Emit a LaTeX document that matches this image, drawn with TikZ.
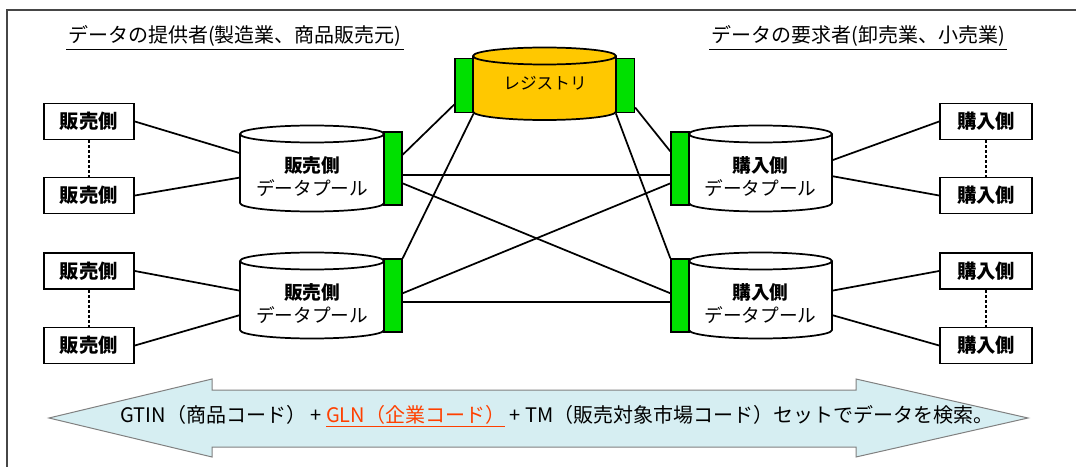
\documentclass[tikz,border=0pt]{standalone}
\usepackage{fontspec}
\setmainfont{Noto Sans CJK JP}
\usetikzlibrary{calc}

\definecolor{portgreen}{RGB}{0,224,0}
\definecolor{regyellow}{RGB}{255,200,0}
\definecolor{arrowfill}{RGB}{214,238,242}
\definecolor{glnred}{RGB}{255,64,0}
\definecolor{framegray}{RGB}{70,70,70}

\tikzset{every picture/.style={line width=1.3pt}}

\begin{document}
\begin{tikzpicture}[x=0.75pt,y=0.75pt,yscale=-1,xscale=1,
  box/.style={draw,fill=white,inner sep=0pt,minimum width=67.5pt,minimum height=27pt,font=\bfseries\fontsize{14.5}{17}\selectfont},
  port/.style={draw,fill=portgreen,inner sep=0pt,minimum width=13.5pt,line width=1pt},
  poolbody/.style={inner sep=0pt,minimum width=108pt,minimum height=51.75pt},
  pooltext/.style={inner sep=0pt,align=center,font=\fontsize{14}{16.8}\selectfont},
  title/.style={inner sep=0.75pt,font=\fontsize{15}{18}\selectfont}]
	\useasboundingbox (0,0) rectangle (1076,467);

	%Frame
	\draw [framegray,line width=1.5pt] (7,467) -- (7,10.5) -- (1076,10.5) ;

	% Text Node
	\draw (235,36) node [title] (ttlL) {データの提供者(製造業、商品販売元)};
	\draw [line width=1pt] ($(ttlL.south west)+(0,1)$) -- ($(ttlL.south east)+(0,1)$) ;
	% Text Node
	\draw (858,36) node [title] (ttlR) {データの要求者(卸売業、小売業)};
	\draw [line width=1pt] ($(ttlR.south west)+(0,1)$) -- ($(ttlR.south east)+(0,1)$) ;

	%Shape: Can [registry]
	\draw [fill=regyellow] (473,56) -- (473,111.5) arc [start angle=180,end angle=0,x radius=71.5,y radius=8.5] -- (616,56) ;
	\draw [fill=regyellow] (544.5,56) ellipse [x radius=71.5,y radius=8.5] ;
	\draw (545,83) node [inner sep=0pt,font=\fontsize{12.5}{15}\selectfont] (reg) {レジストリ};
	\draw (464,85.5) node [port,minimum height=40.8pt] (gL) {};
	\draw (625.5,85.5) node [port,minimum height=40.8pt] (gR) {};

	%Shape: Can [sell pool A]
	\draw [fill=white] (240,134) -- (240,203) arc [start angle=180,end angle=0,x radius=72,y radius=8.5] -- (384,134) ;
	\draw [fill=white] (312,134) ellipse [x radius=72,y radius=8.5] ;
	\draw (312,168.5) node [poolbody] (pA) {};
	\draw (312,176.6) node [pooltext] (tA) {\textbf{販売側}\\データプール};
	\draw (393,168.5) node [port,minimum height=54.75pt] (gA) {};

	%Shape: Can [sell pool B]
	\draw [fill=white] (240,261) -- (240,330) arc [start angle=180,end angle=0,x radius=72,y radius=8.5] -- (384,261) ;
	\draw [fill=white] (312,261) ellipse [x radius=72,y radius=8.5] ;
	\draw (312,295.5) node [poolbody] (pB) {};
	\draw (312,303.6) node [pooltext] (tB) {\textbf{販売側}\\データプール};
	\draw (393,295.5) node [port,minimum height=54.75pt] (gB) {};

	%Shape: Can [buy pool C]
	\draw [fill=white] (689,134) -- (689,203) arc [start angle=180,end angle=0,x radius=71.5,y radius=8.5] -- (832,134) ;
	\draw [fill=white] (760.5,134) ellipse [x radius=71.5,y radius=8.5] ;
	\draw (760.5,168.5) node [poolbody,minimum width=107.25pt] (pC) {};
	\draw (760.5,176.6) node [pooltext] (tC) {\textbf{購入側}\\データプール};
	\draw (680,168.5) node [port,minimum height=54.75pt] (gC) {};

	%Shape: Can [buy pool D]
	\draw [fill=white] (689,261) -- (689,330) arc [start angle=180,end angle=0,x radius=71.5,y radius=8.5] -- (832,261) ;
	\draw [fill=white] (760.5,261) ellipse [x radius=71.5,y radius=8.5] ;
	\draw (760.5,295.5) node [poolbody,minimum width=107.25pt] (pD) {};
	\draw (760.5,303.6) node [pooltext] (tD) {\textbf{購入側}\\データプール};
	\draw (680,295.5) node [port,minimum height=54.75pt] (gD) {};

	%Shape: Rectangle [seller boxes]
	\draw (89,121.5) node [box] (s1) {販売側};
	\draw (89,195.5) node [box] (s2) {販売側};
	\draw (89,271) node [box] (s3) {販売側};
	\draw (89,345.5) node [box] (s4) {販売側};
	%Shape: Rectangle [buyer boxes]
	\draw (986,121.5) node [box,minimum width=69pt] (k1) {購入側};
	\draw (986,195.5) node [box,minimum width=69pt] (k2) {購入側};
	\draw (986,271) node [box,minimum width=69pt] (k3) {購入側};
	\draw (986,345.5) node [box,minimum width=69pt] (k4) {購入側};

	%Dotted Lines
	\draw [line width=1.6pt,dash pattern={on 2.25pt off 1.5pt}] (s1) -- (s2) ;
	\draw [line width=1.6pt,dash pattern={on 2.25pt off 1.5pt}] (s3) -- (s4) ;
	\draw [line width=1.6pt,dash pattern={on 2.25pt off 1.5pt}] (k1) -- (k2) ;
	\draw [line width=1.6pt,dash pattern={on 2.25pt off 1.5pt}] (k3) -- (k4) ;

	%Straight Lines [boxes to pools]
	\draw (s1.east) -- ($(pA.north west)!0.28!(pA.south west)$) ;
	\draw (s2.east) -- ($(pA.north west)!0.63!(pA.south west)$) ;
	\draw (s3.east) -- ($(pB.north west)!0.43!(pB.south west)$) ;
	\draw (s4.east) -- ($(pB.north west)!0.78!(pB.south west)$) ;
	\draw (k1.west) -- ($(pC.north east)!0.38!(pC.south east)$) ;
	\draw (k2.west) -- ($(pC.north east)!0.61!(pC.south east)$) ;
	\draw (k3.west) -- ($(pD.north east)!0.43!(pD.south east)$) ;
	\draw (k4.west) -- ($(pD.north east)!0.78!(pD.south east)$) ;

	%Straight Lines [pools to registry]
	\draw ($(gA.north east)!0.315!(gA.south east)$) -- ($(gL.north west)!0.84!(gL.south west)$) ;
	\draw (gB.north east) -- (gL.south east) ;
	\draw (gR.south west) -- (gD.north west) ;
	\draw ($(gR.north east)!0.895!(gR.south east)$) -- ($(gC.north west)!0.27!(gC.south west)$) ;

	%Straight Lines [pool to pool]
	\draw ($(gA.north east)!0.59!(gA.south east)$) -- ($(gC.north west)!0.59!(gC.south west)$) ;
	\draw ($(gA.north east)!0.70!(gA.south east)$) -- ($(gD.north west)!0.47!(gD.south west)$) ;
	\draw ($(gB.north east)!0.47!(gB.south east)$) -- ($(gC.north west)!0.70!(gC.south west)$) ;
	\draw ($(gB.north east)!0.59!(gB.south east)$) -- ($(gD.north west)!0.59!(gD.south west)$) ;

	%Shape: Left Right Arrow
	\draw [fill=arrowfill,draw=gray,line width=0.75pt] (49,418) -- (212,379) -- (212,390) -- (856,390) -- (856,379) -- (1028,418) -- (856,457) -- (856,447) -- (212,447) -- (212,457) -- cycle ;
	% Text Node
	\draw (557,416) node [inner sep=0pt,font=\fontsize{15}{18}\selectfont] (srch) {GTIN（商品コード） + \textcolor{glnred}{\underline{GLN（企業コード）}} + TM（販売対象市場コード）セットでデータを検索。};

\end{tikzpicture}
\end{document}
